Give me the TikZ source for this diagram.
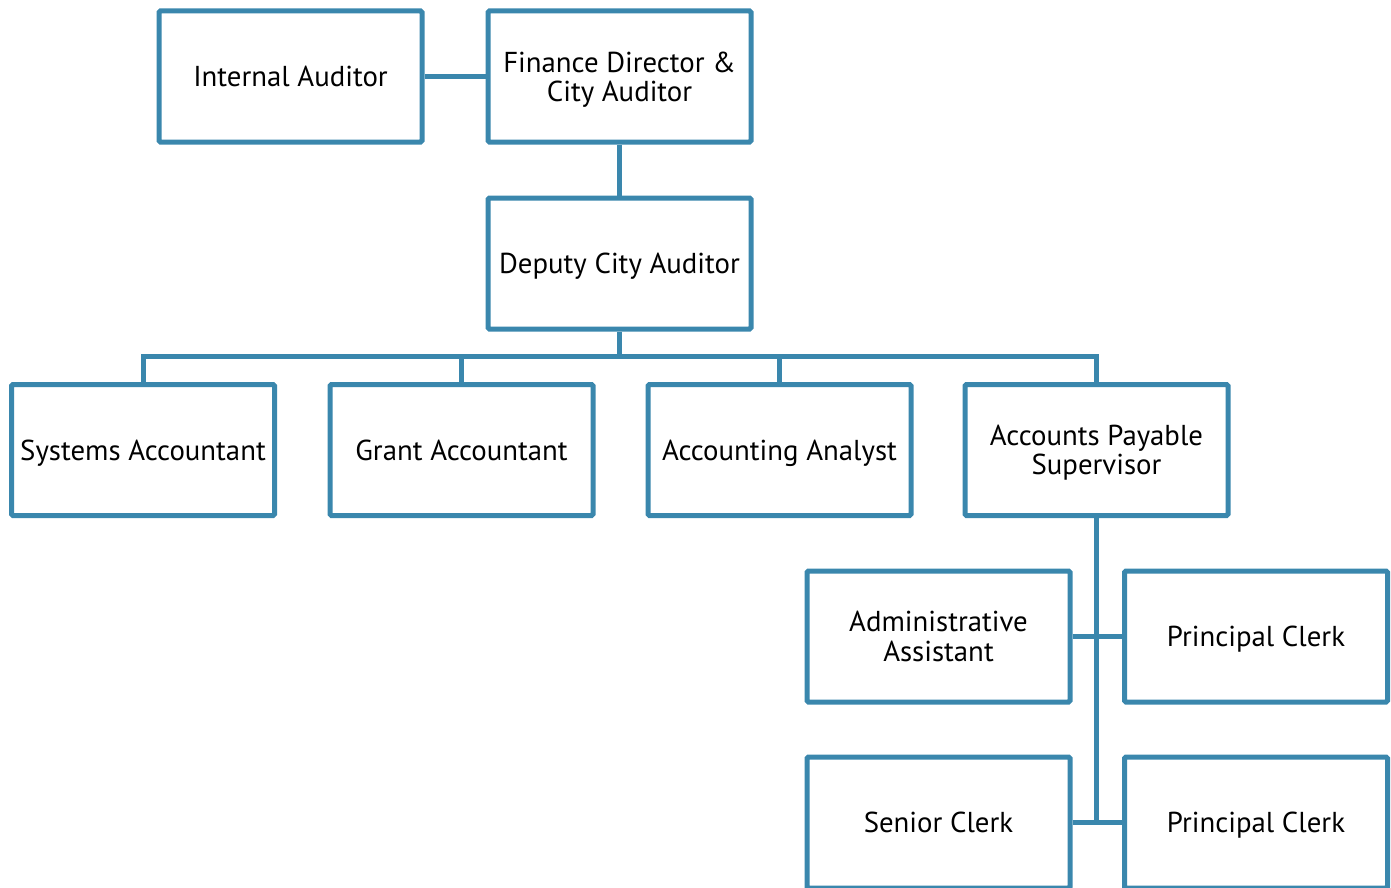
\documentclass[tikz,border=0pt]{standalone}
\usepackage{fontspec}
\setmainfont{PT Sans}
\definecolor{boxblue}{HTML}{3A87AD}
\newcommand\bxt[1]{\raisebox{0pt}[\height][0pt]{#1}}
\begin{document}
\begin{tikzpicture}[x={(1pt,0)},y={(0,-1pt)},
  box/.style={draw=boxblue,line width=5pt,fill=white,rounded corners=1.5pt,minimum width=263pt,minimum height=131pt,inner sep=0pt,align=center,font=\fontsize{28.8}{29.5}\selectfont,text=black},
  conn/.style={draw=boxblue,line width=5pt}]
\useasboundingbox (0,0) rectangle (1391,888);
\clip (0,0) rectangle (1391,888);
\coordinate (bus) at (619.5,356);
\node[box] (IA) at (290.5,76.5) {\bxt{Internal Auditor}};
\node[box] (FD) at (619.5,76.5) {Finance Director \&\\\bxt{City Auditor}};
\node[box] (DCA) at (619.5,263.5) {\bxt{Deputy City Auditor}};
\node[box] (SA) at (143,450) {\bxt{Systems Accountant}};
\node[box] (GA) at (461.5,450) {\bxt{Grant Accountant}};
\node[box] (AA) at (779.5,450) {\bxt{Accounting Analyst}};
\node[box] (APS) at (1096.5,450) {Accounts Payable\\\bxt{Supervisor}};
\node[box] (AdA) at (938.5,636.5) {Administrative\\\bxt{Assistant}};
\node[box] (PC1) at (1256,636.5) {\bxt{Principal Clerk}};
\node[box] (SC) at (938.5,822.5) {\bxt{Senior Clerk}};
\node[box] (PC2) at (1256,822.5) {\bxt{Principal Clerk}};
\draw[conn] (IA.east) -- (FD.west);
\draw[conn] (FD.south) -- (DCA.north);
\draw[conn] (DCA.south) -- (bus);
\draw[conn] (SA.north) |- (bus) -| (APS.north);
\draw[conn] (GA.north) -- (GA.north |- bus);
\draw[conn] (AA.north) -- (AA.north |- bus);
\draw[conn] (APS.south) -- (APS.south |- SC.east);
\draw[conn] (AdA.east) -- (PC1.west);
\draw[conn] (SC.east) -- (PC2.west);
\end{tikzpicture}
\end{document}
